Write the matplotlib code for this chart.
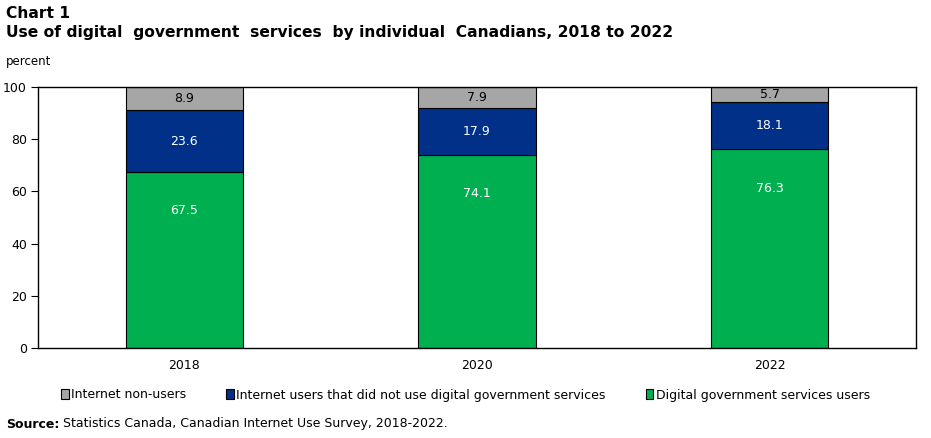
import matplotlib
matplotlib.use("Agg")
import matplotlib.pyplot as plt
from matplotlib.patches import Patch

years = ["2018", "2020", "2022"]
digital_users = [67.5, 74.1, 76.3]
not_digital = [23.6, 17.9, 18.1]
non_users = [8.9, 7.9, 5.7]
series_labels = ["Internet non-users",
                 "Internet users that did not use digital government services",
                 "Digital government services users"]
yticks = [0, 20, 40, 60, 80, 100]

c_green = "#00B050"
c_navy = "#003087"
c_gray = "#A6A6A6"

plt.rcParams['font.family'] = ['DejaVu Sans']
fig = plt.figure(figsize=(9.31, 4.38), dpi=100)
ax = fig.add_axes([38/931, 1-348/438, (916-38)/931, (348-87)/438])

x = list(range(len(years)))
w = 0.4
ax.bar(x, digital_users, w, color=c_green, edgecolor="black", linewidth=0.8)
bottom2 = digital_users
ax.bar(x, not_digital, w, bottom=bottom2, color=c_navy, edgecolor="black", linewidth=0.8)
bottom3 = [a + b for a, b in zip(digital_users, not_digital)]
ax.bar(x, non_users, w, bottom=bottom3, color=c_gray, edgecolor="black", linewidth=0.8)

for i in x:
    ax.text(i, digital_users[i] - 15, f"{digital_users[i]:.1f}", ha="center", va="center",
            color="white", fontsize=9)
    ax.text(i, bottom2[i] + not_digital[i] / 2, f"{not_digital[i]:.1f}", ha="center", va="center",
            color="white", fontsize=9)
    ax.text(i, bottom3[i] + min(non_users[i], 100 - bottom3[i]) / 2, f"{non_users[i]:.1f}",
            ha="center", va="center", color="black", fontsize=9)

ax.set_xlim(-0.5, 2.5)
ax.set_ylim(0, 100)
ax.set_yticks(yticks)
ax.set_xticks(x)
ax.set_xticklabels(years)
ax.tick_params(axis="x", length=0, labelsize=9, pad=8)
ax.tick_params(axis="y", length=5, labelsize=9, direction="out", pad=3)
for s in ax.spines.values():
    s.set_linewidth(1.0)

fig.text(6/931, 1-13/438, "Chart 1", fontsize=11.2, fontweight="bold", va="center", ha="left")
fig.text(6/931, 1-33/438, "Use of digital  government  services  by individual  Canadians, 2018 to 2022",
         fontsize=11.2, fontweight="bold", va="center", ha="left")
fig.text(6/931, 1-62/438, "percent", fontsize=8.5, va="center", ha="left")

handles = [Patch(facecolor=c_gray, edgecolor="black", linewidth=0.8),
           Patch(facecolor=c_navy, edgecolor="black", linewidth=0.8),
           Patch(facecolor=c_green, edgecolor="black", linewidth=0.8)]
fig.legend(handles, series_labels, loc="center", bbox_to_anchor=(0.5, 1-395/438), ncol=3,
           frameon=False, fontsize=9, handlelength=0.6, handleheight=0.8, handletextpad=0.2,
           columnspacing=3.2)

fig.text(6/931, 1-424/438, "Source:", fontsize=9, fontweight="bold", va="center", ha="left")
fig.text(63/931, 1-424/438, "Statistics Canada, Canadian Internet Use Survey, 2018-2022.",
         fontsize=9, va="center", ha="left")

fig.savefig("out.png", dpi=100)
